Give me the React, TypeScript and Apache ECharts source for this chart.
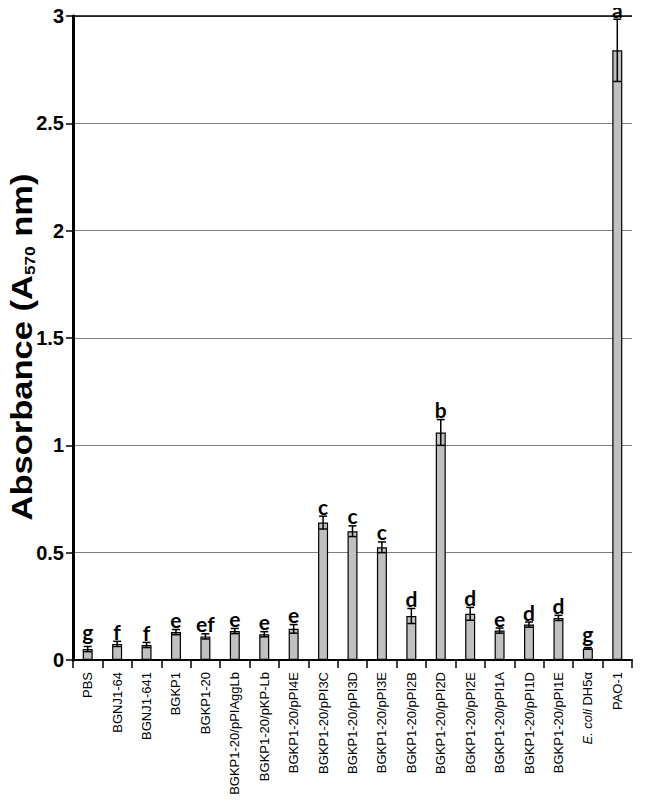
import React, { useEffect, useRef } from "react";
import * as echarts from "echarts";

const categories = [
  "PBS", "BGNJ1-64", "BGNJ1-641", "BGKP1", "BGKP1-20", "BGKP1-20/pPIAggLb",
  "BGKP1-20/pKP-Lb", "BGKP1-20/pPI4E", "BGKP1-20/pPI3C", "BGKP1-20/pPI3D",
  "BGKP1-20/pPI3E", "BGKP1-20/pPI2B", "BGKP1-20/pPI2D", "BGKP1-20/pPI2E",
  "BGKP1-20/pPI1A", "BGKP1-20/pPI1D", "BGKP1-20/pPI1E", "E. coli DH5α", "PAO-1",
];
const values = [
  0.051, 0.075, 0.07, 0.13, 0.11, 0.135, 0.12, 0.145, 0.64, 0.6, 0.525, 0.205,
  1.06, 0.215, 0.137, 0.165, 0.196, 0.054, 2.84,
];
const errors = [
  0.012, 0.012, 0.012, 0.012, 0.012, 0.012, 0.012, 0.02, 0.03, 0.025, 0.025, 0.035,
  0.06, 0.03, 0.012, 0.012, 0.012, 0.004, 0.145,
];
const letters = [
  "g", "f", "f", "e", "ef", "e", "e", "e", "c", "c", "c", "d", "b", "d", "e", "d", "d", "g", "a",
];
const yTicks = [0, 0.5, 1, 1.5, 2, 2.5, 3];
const yTitleMain = "Absorbance (A";
const yTitleSub = "570";
const yTitleEnd = " nm)";

const FONT = "Liberation Sans, Arial, sans-serif";

export default function App() {
  const ref = useRef<HTMLDivElement>(null);
  useEffect(() => {
    if (!ref.current) return;
    const chart = echarts.init(ref.current, null, { renderer: "svg" });
    const errData = values.map((v, i) => [i, v, errors[i], letters[i]]);
    chart.setOption({
      animation: false,
      grid: { left: 73, right: 18, top: 16, bottom: 144, containLabel: false, outerBoundsMode: "none" },
      xAxis: {
        type: "category",
        data: categories,
        axisLine: { lineStyle: { color: "#000", width: 2 } },
        axisTick: { show: true, length: 8, lineStyle: { color: "#000", width: 1.5 } },
        axisLabel: {
          rotate: 90,
          interval: 0,
          margin: 12,
          color: "#000",
          fontFamily: FONT,
          fontSize: 13,
          formatter: (v: string) => (v.startsWith("E. coli") ? "{i|E. coli} DH5α" : v),
          rich: { i: { fontStyle: "italic", fontSize: 13, fontFamily: FONT, color: "#000" } },
        },
      },
      yAxis: {
        type: "value",
        min: 0,
        max: 3,
        interval: 0.5,
        axisLine: { show: true, lineStyle: { color: "#000", width: 3 } },
        axisTick: { show: true, length: 7, lineStyle: { color: "#000", width: 1.5 } },
        axisLabel: {
          margin: 9,
          color: "#000",
          fontWeight: "bold",
          fontSize: 20,
          fontFamily: FONT,
          formatter: (v: number) => (yTicks.includes(v) ? String(v) : ""),
        },
        splitLine: { show: true, lineStyle: { color: "#7f7f7f", width: 1 } },
      },
      graphic: [
        {
          type: "text",
          x: 22,
          y: 347,
          rotation: Math.PI / 2,
          scaleX: 1.15,
          style: {
            text: `{a|${yTitleMain}}{s|${yTitleSub}}{a|${yTitleEnd}}`,
            align: "center",
            verticalAlign: "middle",
            rich: {
              a: { fontSize: 30, fontWeight: "bold", fill: "#000", fontFamily: FONT },
              s: { fontSize: 15, fontWeight: "bold", fill: "#000", fontFamily: FONT, verticalAlign: "bottom", padding: [14, 0, 0, 0] },
            },
          },
        },
      ],
      series: [
        {
          type: "bar",
          data: values,
          barWidth: 10,
          itemStyle: { color: "#c0c0c0", borderColor: "#000", borderWidth: 1.2 },
          markLine: {
            silent: true,
            symbol: "none",
            label: { show: false },
            lineStyle: { color: "#000", width: 1.5, type: "solid" },
            data: [{ yAxis: 3 }],
          },
        },
        {
          type: "custom",
          data: errData,
          z: 10,
          clip: false,
          renderItem: (params: any, api: any) => {
            const i = api.value(0);
            const v = api.value(1);
            const e = api.value(2);
            const letter = letters[params.dataIndex];
            const top = api.coord([i, v + e]);
            const bot = api.coord([i, v - e]);
            const x = top[0];
            const cap = 4;
            const st = { stroke: "#000", lineWidth: 1.5 };
            const lift = letter.includes("g") ? 6 : 1.5;
            return {
              type: "group",
              children: [
                { type: "line", shape: { x1: x, y1: top[1], x2: x, y2: bot[1] }, style: st },
                { type: "line", shape: { x1: x - cap, y1: top[1], x2: x + cap, y2: top[1] }, style: st },
                { type: "line", shape: { x1: x - cap, y1: bot[1], x2: x + cap, y2: bot[1] }, style: st },
                {
                  type: "text",
                  x: x,
                  y: top[1] - lift,
                  style: {
                    text: letter,
                    fill: "#000",
                    font: "bold 21px Lato, 'Open Sans', sans-serif",
                    lineHeight: 17,
                    textAlign: "center",
                    textVerticalAlign: "bottom",
                  },
                },
              ],
            };
          },
        },
      ],
    });
    return () => chart.dispose();
  }, []);
  return <div ref={ref} style={{ width: 650, height: 804, margin: -8 }} />;
}
